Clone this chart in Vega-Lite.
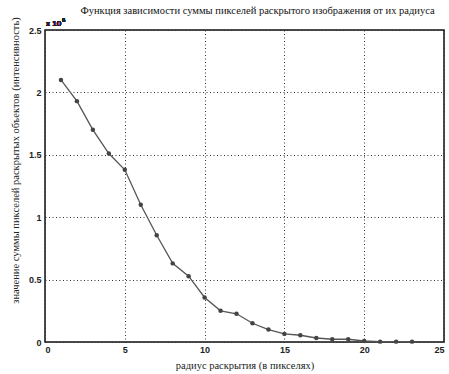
{
  "$schema": "https://vega.github.io/schema/vega-lite/v6.json",
  "autosize": {"type": "none"},
  "width": 399,
  "height": 312,
  "padding": {"left": 45, "top": 30, "right": 5, "bottom": 32},
  "background": "white",
  "title": {
    "text": "Функция зависимости суммы пикселей раскрытого изображения от их радиуса",
    "font": "Liberation Serif",
    "fontSize": 10.5,
    "fontWeight": "normal",
    "color": "#111",
    "anchor": "middle",
    "offset": 0,
    "dx": 13
  },
  "config": {
    "view": {"stroke": "#111", "strokeWidth": 1.5},
    "axis": {
      "labelFont": "Liberation Sans",
      "labelFontSize": 9,
      "labelFontWeight": "bold",
      "labelColor": "#222",
      "titleFont": "Liberation Serif",
      "titleFontSize": 10.5,
      "titleFontWeight": "normal",
      "titleColor": "#222",
      "domain": false,
      "ticks": false,
      "grid": true,
      "gridColor": "#333",
      "gridDash": [1, 2.5],
      "gridWidth": 1,
      "gridOpacity": 1
    }
  },
  "data": {
    "values": [
      {"r": 1, "s": 2100000},
      {"r": 2, "s": 1930000},
      {"r": 3, "s": 1700000},
      {"r": 4, "s": 1510000},
      {"r": 5, "s": 1380000},
      {"r": 6, "s": 1100000},
      {"r": 7, "s": 855000},
      {"r": 8, "s": 630000},
      {"r": 9, "s": 527000},
      {"r": 10, "s": 357000},
      {"r": 11, "s": 250000},
      {"r": 12, "s": 226000},
      {"r": 13, "s": 150000},
      {"r": 14, "s": 100000},
      {"r": 15, "s": 65000},
      {"r": 16, "s": 54000},
      {"r": 17, "s": 32000},
      {"r": 18, "s": 22000},
      {"r": 19, "s": 22000},
      {"r": 20, "s": 8000},
      {"r": 21, "s": 3000},
      {"r": 22, "s": 3000},
      {"r": 23, "s": 3000}
    ]
  },
  "encoding": {
    "x": {
      "field": "r",
      "type": "quantitative",
      "scale": {"domain": [0, 25], "nice": false},
      "axis": {"values": [0, 5, 10, 15, 20, 25], "title": "радиус раскрытия (в пикселях)", "labelPadding": 3, "titlePadding": 6}
    },
    "y": {
      "field": "s",
      "type": "quantitative",
      "scale": {"domain": [0, 2500000], "nice": false},
      "axis": {
        "values": [0, 500000, 1000000, 1500000, 2000000, 2500000],
        "labelExpr": "datum.value / 1000000",
        "title": "значение суммы пикселей раскрытых объектов (интенсивность)",
        "labelPadding": 4,
        "titlePadding": 8,
        "titleY": 130
      }
    }
  },
  "layer": [
    {"mark": {"type": "line", "color": "#555", "strokeWidth": 1.3}},
    {"mark": {"type": "point", "filled": true, "color": "#444", "size": 20, "opacity": 1}},
    {
      "mark": {"type": "text", "text": "x 10", "font": "Liberation Sans", "fontSize": 8, "fontWeight": "normal", "align": "left", "baseline": "bottom", "dy": -2, "dx": 1, "color": "#222"},
      "encoding": {"x": {"datum": 0}, "y": {"datum": 2500000}}
    },
    {
      "mark": {"type": "text", "text": "6", "font": "Liberation Sans", "fontSize": 6, "fontWeight": "normal", "align": "left", "baseline": "bottom", "dy": -7, "dx": 17, "color": "#222"},
      "encoding": {"x": {"datum": 0}, "y": {"datum": 2500000}}
    }
  ]
}
